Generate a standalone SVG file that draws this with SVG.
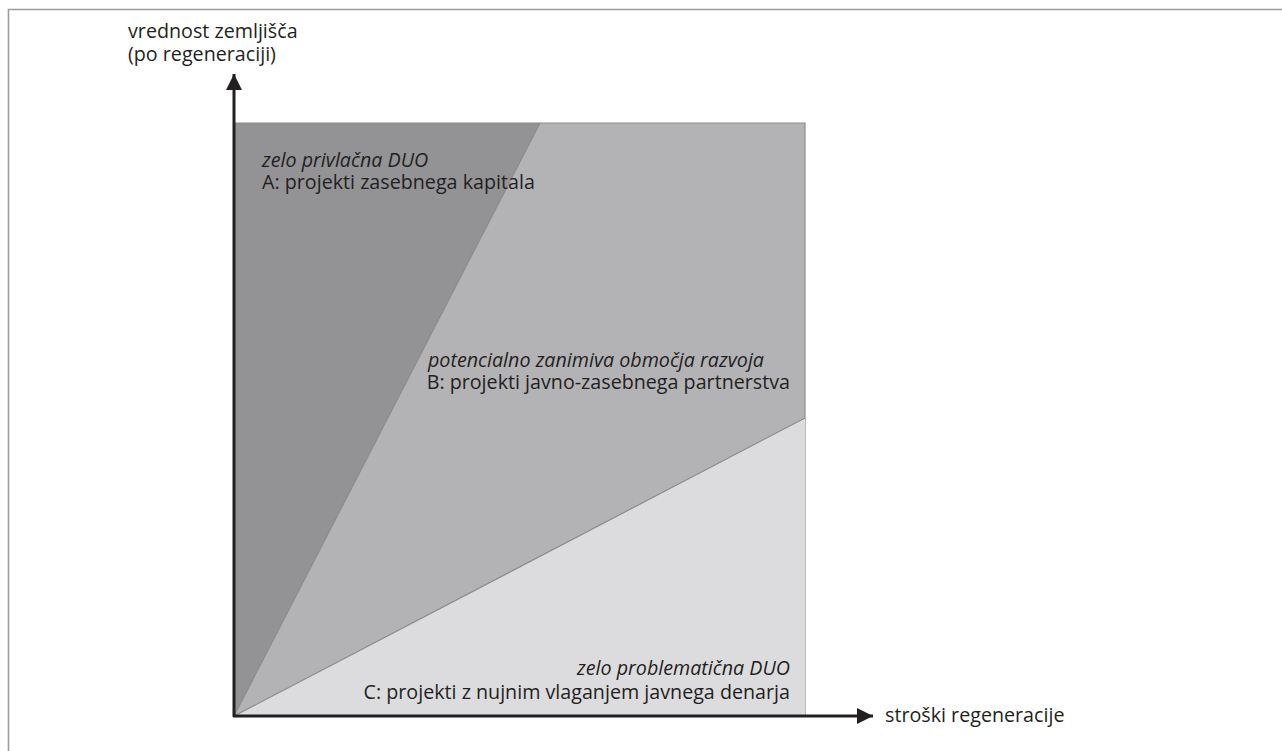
<svg xmlns="http://www.w3.org/2000/svg" width="1282" height="751" viewBox="0 0 1282 751">
<style>
text{font-family:"Open Sans","Liberation Sans",sans-serif;font-size:19.7px;fill:#231f20}
.it{font-style:italic}
.edge{fill:none;stroke:#8c8c8f;stroke-width:1.2}
.axis{stroke:#231f20;stroke-width:3;fill:none}
</style>
<defs>
<marker id="ah" viewBox="0 0 10 10" refX="10" refY="5" markerWidth="26" markerHeight="16" markerUnits="userSpaceOnUse" orient="auto">
<path d="M0,0 L10,5 L0,10 z" fill="#231f20"/>
</marker>
</defs>
<rect width="1282" height="751" fill="#ffffff"/>
<path d="M8.5,751 V9.5 H1282" fill="none" stroke="#9d9d9d" stroke-width="1.6"/>
<g id="region-B">
<rect x="234" y="123" width="571" height="593" fill="#b3b3b6"/>
<path class="edge" d="M540,123 H805 V716"/>
</g>
<g id="region-A">
<polygon points="234,716 234,123 540,123" fill="#939396"/>
<path class="edge" d="M234,123 H540"/>
</g>
<g id="region-C">
<polygon points="234,716 805,418 805,716" fill="#dcdcde"/>
</g>
<g id="connectors">
<line class="edge" x1="234" y1="716" x2="540" y2="123"/>
<line class="edge" x1="234" y1="716" x2="805" y2="418"/>
<line class="axis" x1="234" y1="717" x2="234" y2="74" marker-end="url(#ah)"/>
<line class="axis" x1="233" y1="716" x2="873" y2="716" marker-end="url(#ah)"/>
</g>
<g id="label-y">
<text x="128" y="38">vrednost zemljišča</text>
<text x="128" y="61">(po regeneraciji)</text>
</g>
<g id="label-x">
<text x="885" y="722">stroški regeneracije</text>
</g>
<g id="label-A">
<text class="it" x="262" y="167">zelo privlačna DUO</text>
<text x="262" y="189">A: projekti zasebnega kapitala</text>
</g>
<g id="label-B">
<text class="it" x="428" y="367">potencialno zanimiva območja razvoja</text>
<text x="790" y="389" text-anchor="end">B: projekti javno-zasebnega partnerstva</text>
</g>
<g id="label-C">
<text class="it" x="790" y="675" text-anchor="end">zelo problematična DUO</text>
<text x="790" y="699" text-anchor="end">C: projekti z nujnim vlaganjem javnega denarja</text>
</g>
</svg>
